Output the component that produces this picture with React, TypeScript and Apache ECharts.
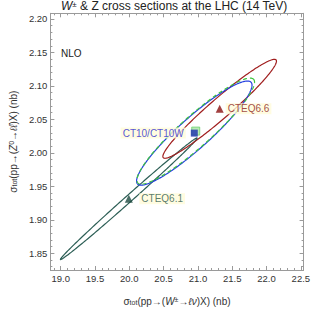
import React, { useEffect, useRef } from 'react';
import * as echarts from 'echarts';

// PDF sets and their central predictions (sigma_W, sigma_Z) in nb
const pdfSets = ['CTEQ6.1', 'CTEQ6.6', 'CT10', 'CT10W'];
const centerW = [19.993, 21.317, 20.947, 20.968];
const centerZ = [1.9315, 2.0658, 2.0295, 2.0325];
// ellipse semi-axis vectors (data units)
const majorW = [0.996, 0.822, 0.828, 0.844];
const majorZ = [0.0908, 0.073, 0.0759, 0.0773];
const minorW = [0.0325, 0.0961, 0.1488, 0.1488];
const minorZ = [-0.00376, -0.01142, -0.01715, -0.01715];

const xTickLabels = [19.0, 19.5, 20.0, 20.5, 21.0, 21.5, 22.0, 22.5];
const yTickLabels = [1.85, 1.9, 1.95, 2.0, 2.05, 2.1, 2.15, 2.2];

const X_MIN = 18.85;
const X_MAX = 22.54;
const Y_MIN = 1.825;
const Y_MAX = 2.2085;

const FONT = '"Liberation Sans", Arial, Helvetica, sans-serif';
const FRAME = '#9a9a9a';

const ellipseColors = ['#2c5e55', '#a01e1e', '#2540e0', '#3ec43e'];
const ellipseDash: (number[] | null)[] = [null, null, null, [4, 3]];

function minorTicks(lo: number, hi: number, step: number): number[] {
  const out: number[] = [];
  for (let i = Math.ceil(lo / step - 1e-9); i * step <= hi + 1e-9; i++) {
    out.push(+(i * step).toFixed(4));
  }
  return out;
}

const xMinor = minorTicks(X_MIN, X_MAX, 0.1);
const yMinor = minorTicks(Y_MIN, Y_MAX, 0.01);

const nameRich = {
  s: { fontSize: 10, fontFamily: FONT, color: '#333' },
  it: { fontSize: 10, fontFamily: FONT, fontStyle: 'italic', color: '#333' },
  sub: { fontSize: 7, fontFamily: FONT, color: '#333', verticalAlign: 'bottom', padding: [3, 0, 0, 0] },
  sup: { fontSize: 7, fontFamily: FONT, color: '#333', verticalAlign: 'top', padding: [0, 0, 3, 0] },
};

function xAxis(position: 'top' | 'bottom', major: boolean, withLabels: boolean): any {
  return {
    type: 'value',
    position,
    min: X_MIN,
    max: X_MAX,
    splitLine: { show: false },
    axisLine: { show: major, onZero: false, lineStyle: { color: FRAME, width: 1 } },
    axisTick: {
      show: true,
      inside: true,
      length: major ? 4 : 2,
      customValues: major ? xTickLabels : xMinor,
      lineStyle: { color: FRAME, width: 1 },
    },
    axisLabel: withLabels
      ? {
          show: true,
          customValues: xTickLabels,
          formatter: (v: number) => v.toFixed(1),
          margin: 3,
          fontSize: 9.5,
          fontFamily: FONT,
          color: '#333',
        }
      : { show: false },
    ...(withLabels
      ? {
          name: '{s|σ}{sub|tot}{s|(pp→(}{it|W}{sup|±}{s|→}{it|ℓν}{s|)X) (nb)}',
          nameLocation: 'middle',
          nameGap: 26,
          nameTextStyle: { rich: nameRich },
        }
      : {}),
  };
}

function yAxis(position: 'left' | 'right', major: boolean, withLabels: boolean): any {
  return {
    type: 'value',
    position,
    min: Y_MIN,
    max: Y_MAX,
    splitLine: { show: false },
    axisLine: { show: major, onZero: false, lineStyle: { color: FRAME, width: 1 } },
    axisTick: {
      show: true,
      inside: true,
      length: major ? 4 : 2,
      customValues: major ? yTickLabels : yMinor,
      lineStyle: { color: FRAME, width: 1 },
    },
    axisLabel: withLabels
      ? {
          show: true,
          customValues: yTickLabels,
          formatter: (v: number) => v.toFixed(2),
          margin: 3,
          fontSize: 9.5,
          fontFamily: FONT,
          color: '#333',
        }
      : { show: false },
    ...(withLabels
      ? {
          name: '{s|σ}{sub|tot}{s|(pp→(}{it|Z}{sup|0}{s|→}{it|ℓ}{it|ℓ̄}{s|)X) (nb)}',
          nameLocation: 'middle',
          nameRotate: 90,
          nameGap: 22,
          nameTextStyle: { rich: nameRich },
        }
      : {}),
  };
}

export default function App() {
  const ref = useRef<HTMLDivElement>(null);

  useEffect(() => {
    if (!ref.current) return;
    const chart = echarts.init(ref.current, null, { renderer: 'svg' });

    const ellipseData = pdfSets.map((_, i) => [
      centerW[i], centerZ[i], majorW[i], majorZ[i], minorW[i], minorZ[i],
    ]);

    const markerSymbols = ['triangle', 'triangle', 'rect', 'rect'];
    const markerSizes = [8, 8, 7, 8];
    const markerColors = ['#1d4a40', '#8b1010', '#1a2fb0', '#a6e6a0'];
    const markerBorders = ['#1d4a40', '#8b1010', '#1a2fb0', '#6bcf6b'];
    const labelColors = ['#2d5a4e', '#8b1a1a', '#2a2ad0', null];
    const labelText = ['CTEQ6.1', 'CTEQ6.6', 'CT10/CT10W', ''];
    const labelPos = ['right', 'right', 'left', 'right'];
    const labelDist = [6.5, 2, 5, 0];
    // draw CT10W (green) beneath CT10 (blue)
    const drawOrder = [0, 1, 3, 2];

    const markerData = drawOrder.map((i) => ({
      name: pdfSets[i],
      value: [centerW[i], centerZ[i]],
      symbol: markerSymbols[i],
      symbolSize: markerSizes[i],
      itemStyle: { color: markerColors[i], borderColor: markerBorders[i], borderWidth: i === 3 ? 1 : 0 },
      label: labelColors[i]
        ? {
            show: true,
            formatter: labelText[i],
            position: labelPos[i],
            distance: labelDist[i],
            color: labelColors[i],
            fontSize: 10,
            fontFamily: FONT,
            backgroundColor: '#fffbd9',
            padding: [1, 2, 0, 2],
          }
        : { show: false },
    }));

    chart.setOption({
      animation: false,
      title: {
        text: '{it|W}{sup|±}{s| & Z cross sections at the LHC (14 TeV)}',
        left: 61,
        top: 0,
        padding: 0,
        textStyle: {
          fontWeight: 'normal',
          rich: {
            s: { fontSize: 12, fontFamily: FONT, fontWeight: 'normal', color: '#222' },
            it: { fontSize: 12, fontFamily: FONT, fontWeight: 'normal', fontStyle: 'italic', color: '#222' },
            sup: { fontSize: 8, fontFamily: FONT, fontWeight: 'normal', color: '#222', verticalAlign: 'top' },
          },
        },
      },
      graphic: [
        {
          type: 'text',
          left: 61,
          top: 48,
          style: { text: 'NLO', fontSize: 10, fontFamily: FONT, fill: '#222' },
        },
      ],
      grid: { left: 40.7, right: 8.5, top: 13.3, bottom: 31 },
      xAxis: [
        xAxis('bottom', true, true),
        xAxis('bottom', false, false),
        xAxis('top', true, false),
        xAxis('top', false, false),
      ],
      yAxis: [
        yAxis('left', true, true),
        yAxis('left', false, false),
        yAxis('right', true, false),
        yAxis('right', false, false),
      ],
      series: [
        {
          type: 'custom',
          coordinateSystem: 'cartesian2d',
          data: ellipseData,
          encode: { x: 0, y: 1 },
          silent: true,
          renderItem: (params: any, api: any) => {
            const i = params.dataIndex;
            const cx = api.value(0);
            const cy = api.value(1);
            const ax = api.value(2);
            const ay = api.value(3);
            const bx = api.value(4);
            const by = api.value(5);
            const pts: number[][] = [];
            const N = 240;
            for (let k = 0; k <= N; k++) {
              const t = (k / N) * Math.PI * 2;
              const c = Math.cos(t);
              const s = Math.sin(t);
              pts.push(api.coord([cx + ax * c + bx * s, cy + ay * c + by * s]));
            }
            return {
              type: 'polyline',
              shape: { points: pts },
              style: {
                fill: 'none',
                stroke: ellipseColors[i],
                lineWidth: 1.2,
                lineDash: ellipseDash[i] || undefined,
              },
            };
          },
          z: 2,
        },
        {
          type: 'scatter',
          data: markerData,
          z: 3,
        },
      ],
    });

    return () => chart.dispose();
  }, []);

  return (
    <div
      ref={ref}
      style={{ position: 'absolute', left: 0, top: 0, width: 313, height: 311, background: '#fff' }}
    />
  );
}
